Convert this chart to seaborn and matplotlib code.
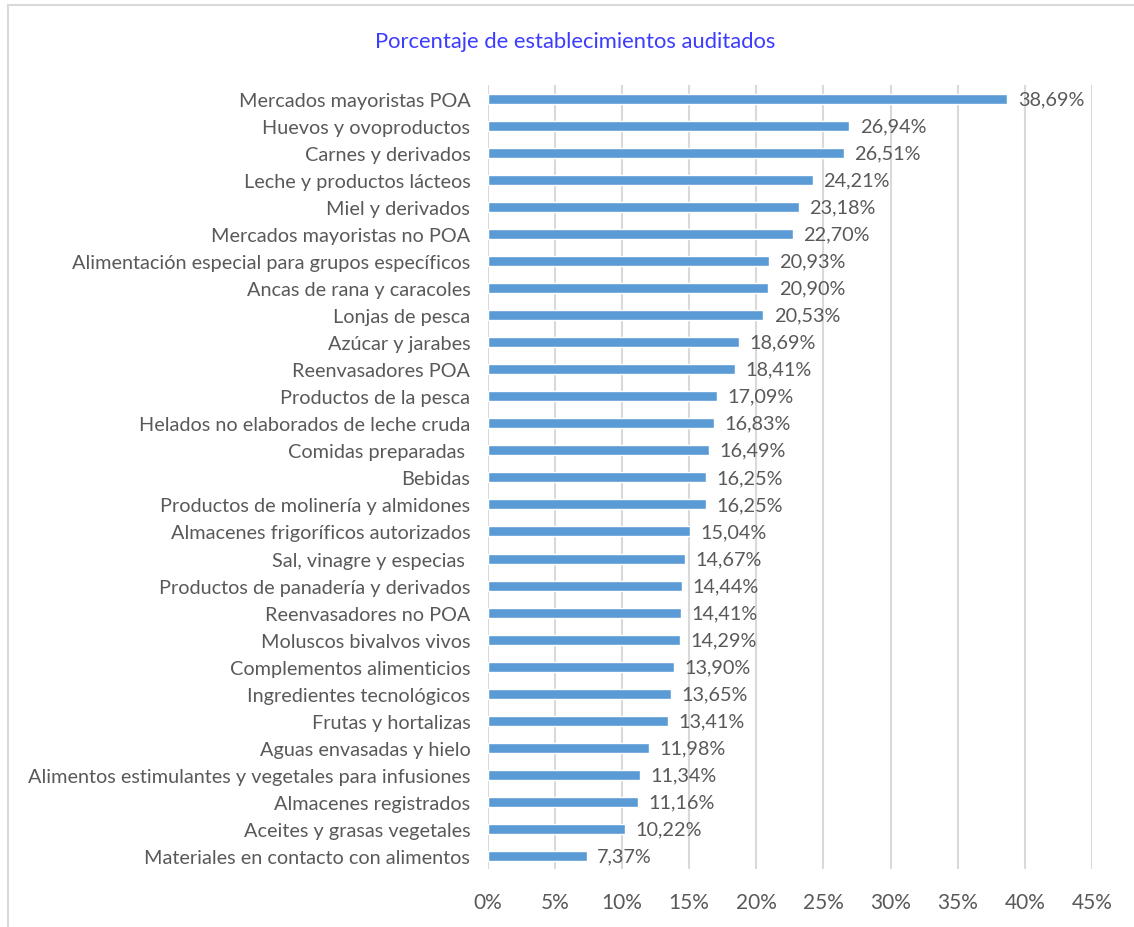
import matplotlib
matplotlib.use('Agg')
import matplotlib.pyplot as plt
import seaborn as sns
import pandas as pd
from matplotlib.patches import Rectangle

# datos
categorias = [
    'Mercados mayoristas POA', 'Huevos y ovoproductos', 'Carnes y derivados',
    'Leche y productos lácteos', 'Miel y derivados', 'Mercados mayoristas no POA',
    'Alimentación especial para grupos específicos', 'Ancas de rana y caracoles',
    'Lonjas de pesca', 'Azúcar y jarabes', 'Reenvasadores POA', 'Productos de la pesca',
    'Helados no elaborados de leche cruda', 'Comidas preparadas ', 'Bebidas',
    'Productos de molinería y almidones', 'Almacenes frigoríficos autorizados',
    'Sal, vinagre y especias ', 'Productos de panadería y derivados',
    'Reenvasadores no POA', 'Moluscos bivalvos vivos', 'Complementos alimenticios',
    'Ingredientes tecnológicos', 'Frutas y hortalizas', 'Aguas envasadas y hielo',
    'Alimentos estimulantes y vegetales para infusiones', 'Almacenes registrados',
    'Aceites y grasas vegetales', 'Materiales en contacto con alimentos',
]
porcentajes = [38.69, 26.94, 26.51, 24.21, 23.18, 22.70, 20.93, 20.90, 20.53, 18.69,
               18.41, 17.09, 16.83, 16.49, 16.25, 16.25, 15.04, 14.67, 14.44, 14.41,
               14.29, 13.90, 13.65, 13.41, 11.98, 11.34, 11.16, 10.22, 7.37]
ticks_x = [0, 5, 10, 15, 20, 25, 30, 35, 40, 45]

df = pd.DataFrame({'cat': categorias, 'pct': porcentajes})

sns.set_style('white')
plt.rcParams['font.family'] = ['Lato', 'DejaVu Sans']
gris = '#595959'

fig = plt.figure(figsize=(11.34, 9.28), dpi=100)
ax = fig.add_axes([0.430, 0.062, 0.533, 0.845])

sns.barplot(data=df, y='cat', x='pct', orient='h', color='#5b9bd5',
            saturation=1, width=0.37, ax=ax)

ax.set_xlim(0, 45)
ax.set_ylim(len(categorias) - 0.5, -0.5)
ax.set_xticks(ticks_x)
ax.set_xticklabels([f'{t}%' for t in ticks_x], fontsize=15, color=gris)
ax.tick_params(axis='x', length=0, pad=16)
ax.tick_params(axis='y', length=0, pad=12.5, labelsize=14.3, labelcolor=gris)
ax.xaxis.grid(True, color='#d9d9d9', linewidth=1.5)
ax.set_axisbelow(True)
for s in ax.spines.values():
    s.set_visible(False)
ax.set_xlabel('')
ax.set_ylabel('')

for i, v in enumerate(porcentajes):
    ax.annotate(f'{v:.2f}%'.replace('.', ','), (v, i), xytext=(7.5, 0),
                textcoords='offset points', va='center', ha='left',
                fontsize=14.3, color=gris)

fig.text(0.507, 0.955, 'Porcentaje de establecimientos auditados',
         ha='center', va='center', fontsize=15.8, color='#3c3cff')

fig.patches.append(Rectangle((0.007, -0.01), 1.0, 1.004, transform=fig.transFigure,
                             fill=False, edgecolor='#d9d9d9', linewidth=1.5))

fig.savefig('out.png', dpi=100)
